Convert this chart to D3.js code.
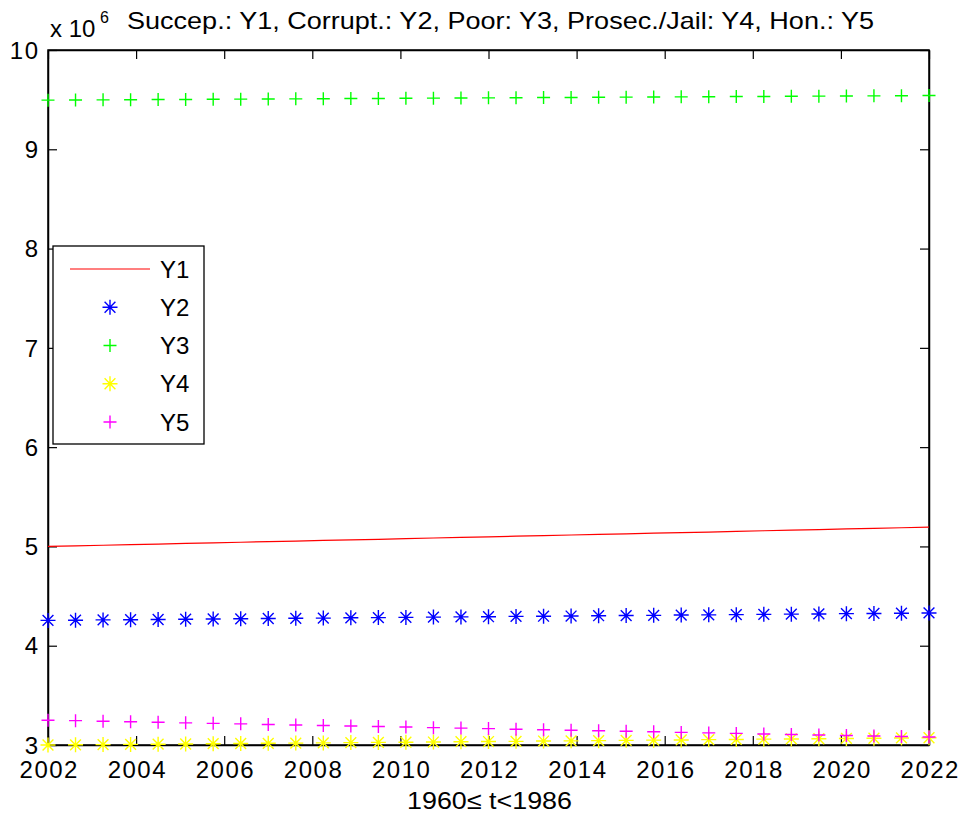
<!DOCTYPE html>
<html><head><meta charset="utf-8">
<script src="https://cdn.jsdelivr.net/npm/d3@7"></script>
<style>body{margin:0;background:#fff}svg{display:block}text{font-family:"Liberation Sans",Arial,sans-serif}</style>
</head><body><svg id="c" width="964" height="819"></svg>
<script>
const years = [2002, 2002.625, 2003.25, 2003.875, 2004.5, 2005.125, 2005.75, 2006.375, 2007, 2007.625, 2008.25, 2008.875, 2009.5, 2010.125, 2010.75, 2011.375, 2012, 2012.625, 2013.25, 2013.875, 2014.5, 2015.125, 2015.75, 2016.375, 2017, 2017.625, 2018.25, 2018.875, 2019.5, 2020.125, 2020.75, 2021.375, 2022];
// values in units of 10^6
const y1 = [5.000, 5.006, 5.012, 5.018, 5.024, 5.030, 5.036, 5.042, 5.048, 5.054, 5.060, 5.066, 5.072, 5.079, 5.085, 5.091, 5.097, 5.103, 5.109, 5.115, 5.121, 5.127, 5.133, 5.139, 5.145, 5.151, 5.158, 5.164, 5.170, 5.176, 5.182, 5.188, 5.194];
const y2 = [4.255, 4.257, 4.260, 4.262, 4.264, 4.267, 4.269, 4.271, 4.274, 4.276, 4.278, 4.281, 4.283, 4.285, 4.288, 4.290, 4.292, 4.295, 4.297, 4.299, 4.302, 4.304, 4.306, 4.309, 4.311, 4.313, 4.316, 4.318, 4.320, 4.323, 4.325, 4.327, 4.330];
const y3 = [9.495, 9.496, 9.498, 9.499, 9.501, 9.502, 9.504, 9.505, 9.506, 9.508, 9.509, 9.511, 9.512, 9.514, 9.515, 9.516, 9.518, 9.519, 9.521, 9.522, 9.524, 9.525, 9.526, 9.528, 9.529, 9.531, 9.532, 9.534, 9.535, 9.536, 9.538, 9.539, 9.541];
const y4 = [3.000, 3.002, 3.004, 3.006, 3.008, 3.010, 3.013, 3.015, 3.017, 3.019, 3.021, 3.024, 3.026, 3.028, 3.030, 3.033, 3.035, 3.037, 3.040, 3.042, 3.044, 3.047, 3.049, 3.051, 3.054, 3.056, 3.059, 3.061, 3.063, 3.066, 3.068, 3.071, 3.073];
const y5 = [3.250, 3.245, 3.239, 3.234, 3.229, 3.223, 3.218, 3.213, 3.207, 3.202, 3.197, 3.191, 3.186, 3.181, 3.175, 3.170, 3.165, 3.159, 3.154, 3.149, 3.143, 3.138, 3.133, 3.127, 3.122, 3.117, 3.111, 3.106, 3.101, 3.095, 3.090, 3.085, 3.080];
const xTicks = [2002, 2004, 2006, 2008, 2010, 2012, 2014, 2016, 2018, 2020, 2022];
const yTicks = [3, 4, 5, 6, 7, 8, 9, 10];
const seriesNames = ["Y1", "Y2", "Y3", "Y4", "Y5"];
const seriesColors = ["#ff0000", "#0000ff", "#00ff00", "#ffff00", "#ff00ff"];
const seriesStyles = ["line", "star", "plus", "star", "plus"];
const titleText = "Succep.: Y1, Corrupt.: Y2, Poor: Y3, Prosec./Jail: Y4, Hon.: Y5";
const xLabelText = "1960\u2264 t<1986";

const L = 48, R = 929, T = 50, B = 745;
const svg = d3.select("#c");
const x = d3.scaleLinear().domain([2002, 2022]).range([L, R]);
const y = d3.scaleLinear().domain([3, 10]).range([B, T]);
const FS = 24, LS = 1.5;

svg.append("rect").attr("x", L).attr("y", T).attr("width", R - L).attr("height", B - T)
  .attr("fill", "#fff").attr("stroke", "#000").attr("stroke-width", 1.5);

const tl = 9;
const gxb = svg.append("g").attr("transform", `translate(0,${B})`)
  .call(d3.axisBottom(x).tickValues(xTicks).tickFormat(d3.format("d")).tickSizeInner(-tl).tickSizeOuter(0));
const gxt = svg.append("g").attr("transform", `translate(0,${T})`)
  .call(d3.axisTop(x).tickValues(xTicks).tickFormat("").tickSizeInner(-tl).tickSizeOuter(0));
const gyl = svg.append("g").attr("transform", `translate(${L},0)`)
  .call(d3.axisLeft(y).tickValues(yTicks).tickFormat(d3.format("d")).tickSizeInner(-tl).tickSizeOuter(0));
const gyr = svg.append("g").attr("transform", `translate(${R},0)`)
  .call(d3.axisRight(y).tickValues(yTicks).tickFormat("").tickSizeInner(-tl).tickSizeOuter(0));
[gxb, gxt, gyl, gyr].forEach(g => {
  g.select(".domain").attr("stroke", "#000").attr("stroke-width", 1.5);
  g.selectAll(".tick line").attr("stroke", "#000").attr("stroke-width", 1.2);
  g.selectAll("text").attr("fill", "#000").style("font-size", FS + "px").style("font-family", '"Liberation Sans",Arial,sans-serif').attr("letter-spacing", LS);
});
gxb.selectAll("text").attr("dy", null).attr("y", 33).attr("dx", LS / 2);
gyl.selectAll("text").attr("x", -10 + LS).attr("dy", "0.34em");

function markerPath(type, s) {
  const h = s / 2;
  if (type === "plus") return `M${-h},0H${h}M0,${-h}V${h}`;
  const d = h * 0.72;
  return `M${-h},0H${h}M0,${-h}V${h}M${-d},${-d}L${d},${d}M${-d},${d}L${d},${-d}`;
}
const markerSize = {plus: 13, star: 15};

const series = [y1, y2, y3, y4, y5];
series.forEach((vals, si) => {
  const data = years.map((t, i) => [t, vals[i]]);
  const st = seriesStyles[si];
  if (st === "line") {
    svg.append("path").datum(data).attr("fill", "none").attr("stroke", seriesColors[si]).attr("stroke-width", 1.2)
      .attr("d", d3.line().x(d => x(d[0])).y(d => y(d[1])));
  } else {
    svg.append("g").selectAll("path").data(data).join("path")
      .attr("transform", d => `translate(${x(d[0])},${y(d[1])})`)
      .attr("d", markerPath(st, markerSize[st]))
      .attr("fill", "none").attr("stroke", seriesColors[si]).attr("stroke-width", 1.4);
  }
});

// title & exponent
svg.append("text").attr("x", 50).attr("y", 37).style("font-size", "24px").attr("fill", "#000").text("x 10");
svg.append("text").attr("x", 100).attr("y", 23).style("font-size", "16px").attr("fill", "#000").text("6");
svg.append("text").attr("x", 127).attr("y", 29).style("font-size", "24px").attr("fill", "#000")
  .attr("textLength", 747).attr("lengthAdjust", "spacingAndGlyphs").text(titleText);
svg.append("text").attr("x", 407).attr("y", 809).style("font-size", "24px").attr("fill", "#000")
  .attr("textLength", 165).attr("lengthAdjust", "spacingAndGlyphs").text(xLabelText);

// legend
const lg = svg.append("g");
const lx = 53, ly = 246, lw = 151, lh = 198;
lg.append("rect").attr("x", lx).attr("y", ly).attr("width", lw).attr("height", lh).attr("fill", "#fff").attr("stroke", "#000").attr("stroke-width", 1.3);
const rowY = d3.scaleLinear().domain([0, 4]).range([269, 422]);
seriesNames.forEach((n, i) => {
  const ry = rowY(i);
  const st = seriesStyles[i];
  if (st === "line") {
    lg.append("line").attr("x1", 70).attr("x2", 150).attr("y1", ry).attr("y2", ry).attr("stroke", seriesColors[i]).attr("stroke-width", 1.2);
  } else {
    lg.append("path").attr("transform", `translate(110,${ry})`).attr("d", markerPath(st, markerSize[st]))
      .attr("fill", "none").attr("stroke", seriesColors[i]).attr("stroke-width", 1.4);
  }
  lg.append("text").attr("x", 160).attr("y", ry).attr("dy", "0.36em").style("font-size", FS + "px").attr("fill", "#000").text(n);
});
</script></body></html>
